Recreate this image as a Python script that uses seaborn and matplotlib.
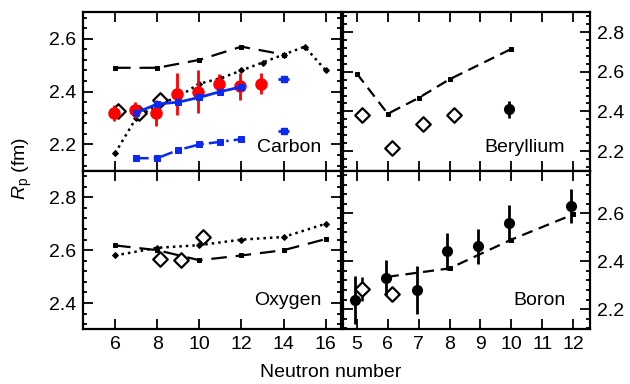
import numpy as np
import seaborn as sns
import matplotlib.pyplot as plt

# ---------------- data ----------------
# Carbon
c_n_dash = [6, 8, 10, 12, 14]
c_r_dash = [2.49, 2.49, 2.52, 2.57, 2.54]
c_n_dot = [6, 7, 8, 9, 10, 11, 12, 13, 14, 15, 16]
c_r_dot = [2.167, 2.30, 2.35, 2.38, 2.43, 2.45, 2.48, 2.51, 2.54, 2.57, 2.48]
c_n_exp = [6, 7, 8, 9, 10, 11, 12, 13]
c_r_exp = [2.32, 2.33, 2.32, 2.39, 2.40, 2.43, 2.42, 2.43]
c_e_exp = [0.03, 0.03, 0.05, 0.08, 0.08, 0.035, 0.05, 0.04]
c_n_dia = [6, 7, 8]
c_r_dia = [2.325, 2.32, 2.37]
c_n_blue = [7, 8, 9, 10, 11, 12]
c_r_blue = [2.32, 2.353, 2.36, 2.378, 2.40, 2.418]
c_r_bluedd = [2.148, 2.148, 2.179, 2.20, 2.21, 2.22]
c_n_iso = [14, 14]
c_r_iso = [2.448, 2.25]

# Beryllium
be_n_dash = [5, 6, 7, 8, 10]
be_r_dash = [2.59, 2.388, 2.468, 2.562, 2.715]
be_n_dia = [5, 6, 7, 8]
be_r_dia = [2.38, 2.217, 2.336, 2.383]
be_n_exp = [10]
be_r_exp = [2.41]
be_e_exp = [0.042]

# Oxygen
o_n = [6, 8, 10, 12, 14, 16]
o_r_dash = [2.618, 2.60, 2.562, 2.58, 2.60, 2.642]
o_r_dot = [2.58, 2.609, 2.619, 2.64, 2.65, 2.70]
o_n_dia = [8, 9, 10]
o_r_dia = [2.565, 2.562, 2.65]

# Boron
b_n_exp = [5, 6, 7, 8, 9, 10, 12]
b_r_exp = [2.239, 2.33, 2.281, 2.441, 2.462, 2.558, 2.631]
b_e_exp = [0.10, 0.073, 0.10, 0.078, 0.073, 0.078, 0.07]
b_n_dash = [6, 8, 10, 12]
b_r_dash = [2.335, 2.37, 2.49, 2.595]
b_n_dia = [5, 6]
b_r_dia = [2.284, 2.263]
b_e_dia = [0.05, 0.0]

# ---------------- style ----------------
sns.set_style("ticks")
plt.rcParams['font.family'] = ['Liberation Sans', 'DejaVu Sans']
plt.rcParams['font.size'] = 14
plt.rcParams['text.color'] = 'black'
plt.rcParams['xtick.color'] = 'black'
plt.rcParams['ytick.color'] = 'black'
plt.rcParams['axes.labelcolor'] = 'black'
plt.rcParams['mathtext.fontset'] = 'custom'
plt.rcParams['mathtext.it'] = 'Liberation Sans:italic'
plt.rcParams['mathtext.rm'] = 'Liberation Sans'

fig = plt.figure(figsize=(6.3, 3.84), dpi=100)
ax_c = fig.add_axes([0.1325, 0.555, 0.408, 0.413])
ax_o = fig.add_axes([0.1325, 0.142, 0.408, 0.413])
ax_be = fig.add_axes([0.5445, 0.555, 0.392, 0.413])
ax_b = fig.add_axes([0.5445, 0.142, 0.392, 0.413])

dash = (0, (5, 3))
dash_long = (0, (7, 4))
dot = (0, (1, 1.6))
dashdot = (0, (5, 2, 1, 2))
dx_exp = -0.07
dx_dia = 0.15
blue = '#0a2af0'


def diamonds(ax, n, r, err=None):
    n = np.asarray(n) + dx_dia
    if err is not None:
        ax.errorbar(n, r, yerr=err, fmt='none', ecolor='black', elinewidth=1.8, zorder=4)
    sns.scatterplot(x=n, y=r, ax=ax, marker='D', s=55, facecolor='white',
                    edgecolor='black', linewidth=1.6, zorder=5)


def exp_points(ax, n, r, err, color, ms):
    ax.errorbar(np.asarray(n) + dx_exp, r, yerr=err, fmt='o', color=color,
                ms=ms, elinewidth=2, capsize=0, zorder=6)


# Carbon
sns.lineplot(x=c_n_dash, y=c_r_dash, ax=ax_c, color='black', lw=1.6, linestyle=dash_long,
             marker='s', ms=3.5, mec='black')
sns.lineplot(x=c_n_dot, y=c_r_dot, ax=ax_c, color='black', lw=1.8, linestyle=dot,
             marker='D', ms=3, mec='black')
exp_points(ax_c, c_n_exp, c_r_exp, c_e_exp, 'red', 8)
diamonds(ax_c, c_n_dia, c_r_dia)
sns.lineplot(x=c_n_blue, y=c_r_blue, ax=ax_c, color=blue, lw=2, marker='s', ms=4,
             mec=blue, zorder=7)
sns.lineplot(x=c_n_blue, y=c_r_bluedd, ax=ax_c, color=blue, lw=1.8, linestyle=dashdot,
             marker='s', ms=4, mec=blue, zorder=7)
ax_c.errorbar(c_n_iso, c_r_iso, xerr=0.25, fmt='s', color=blue, ms=4, elinewidth=2,
              capsize=0, zorder=7)
ax_c.set_xlim(4.5, 16.7)
ax_c.set_ylim(2.1, 2.7)
ax_c.set_yticks([2.2, 2.4, 2.6])
ax_c.text(0.925, 0.15, 'Carbon', transform=ax_c.transAxes, ha='right', va='center')

# Beryllium
sns.lineplot(x=be_n_dash, y=be_r_dash, ax=ax_be, color='black', lw=1.6, linestyle=dash,
             marker='s', ms=3.5, mec='black')
diamonds(ax_be, be_n_dia, be_r_dia)
exp_points(ax_be, be_n_exp, be_r_exp, be_e_exp, 'black', 7)
ax_be.set_xlim(4.55, 12.55)
ax_be.set_ylim(2.1, 2.9)
ax_be.set_yticks([2.2, 2.4, 2.6, 2.8])
ax_be.text(0.9, 0.15, 'Beryllium', transform=ax_be.transAxes, ha='right', va='center')

# Oxygen
sns.lineplot(x=o_n, y=o_r_dash, ax=ax_o, color='black', lw=1.6, linestyle=dash_long,
             marker='s', ms=3.5, mec='black')
sns.lineplot(x=o_n, y=o_r_dot, ax=ax_o, color='black', lw=1.8, linestyle=dot,
             marker='D', ms=3, mec='black')
diamonds(ax_o, o_n_dia, o_r_dia)
ax_o.set_xlim(4.5, 16.7)
ax_o.set_ylim(2.3, 2.9)
ax_o.set_yticks([2.4, 2.6, 2.8])
ax_o.set_xticks([6, 8, 10, 12, 14, 16])
ax_o.text(0.925, 0.18, 'Oxygen', transform=ax_o.transAxes, ha='right', va='center')

# Boron
sns.lineplot(x=b_n_dash, y=b_r_dash, ax=ax_b, color='black', lw=1.6, linestyle=dash,
             marker='s', ms=3.5, mec='black')
diamonds(ax_b, b_n_dia, b_r_dia, b_e_dia)
exp_points(ax_b, b_n_exp, b_r_exp, b_e_exp, 'black', 7)
ax_b.set_xlim(4.55, 12.55)
ax_b.set_ylim(2.115, 2.777)
ax_b.set_yticks([2.2, 2.4, 2.6])
ax_b.set_xticks(range(5, 13))
ax_b.text(0.9, 0.18, 'Boron', transform=ax_b.transAxes, ha='right', va='center')

# common axis styling
for ax in (ax_c, ax_o, ax_be, ax_b):
    ax.yaxis.set_minor_locator(plt.MultipleLocator(0.04))
    ax.tick_params(which='both', direction='in', top=True, right=True, bottom=True, left=True,
                   width=1.3, labelsize=14, pad=5, colors='black')
    ax.tick_params(which='major', length=7)
    ax.tick_params(which='minor', length=3)
    for s in ax.spines.values():
        s.set_linewidth(1.6)
        s.set_color('black')
    ax.set_xlabel('')
    ax.set_ylabel('')
    if ax.get_legend() is not None:
        ax.get_legend().remove()

ax_c.set_xticks([6, 8, 10, 12, 14, 16])
ax_be.set_xticks(range(5, 13))
ax_c.tick_params(labelbottom=False)
ax_be.tick_params(labelbottom=False, labelleft=False, labelright=True)
ax_b.tick_params(labelleft=False, labelright=True)

fig.text(0.036, 0.56, r'$R_\mathrm{p}$ (fm)', rotation=90, ha='center', va='center',
         fontsize=14, color='black')
fig.text(0.525, 0.031, 'Neutron number', ha='center', va='center', fontsize=14, color='black')

fig.savefig('out.png', dpi=100)
